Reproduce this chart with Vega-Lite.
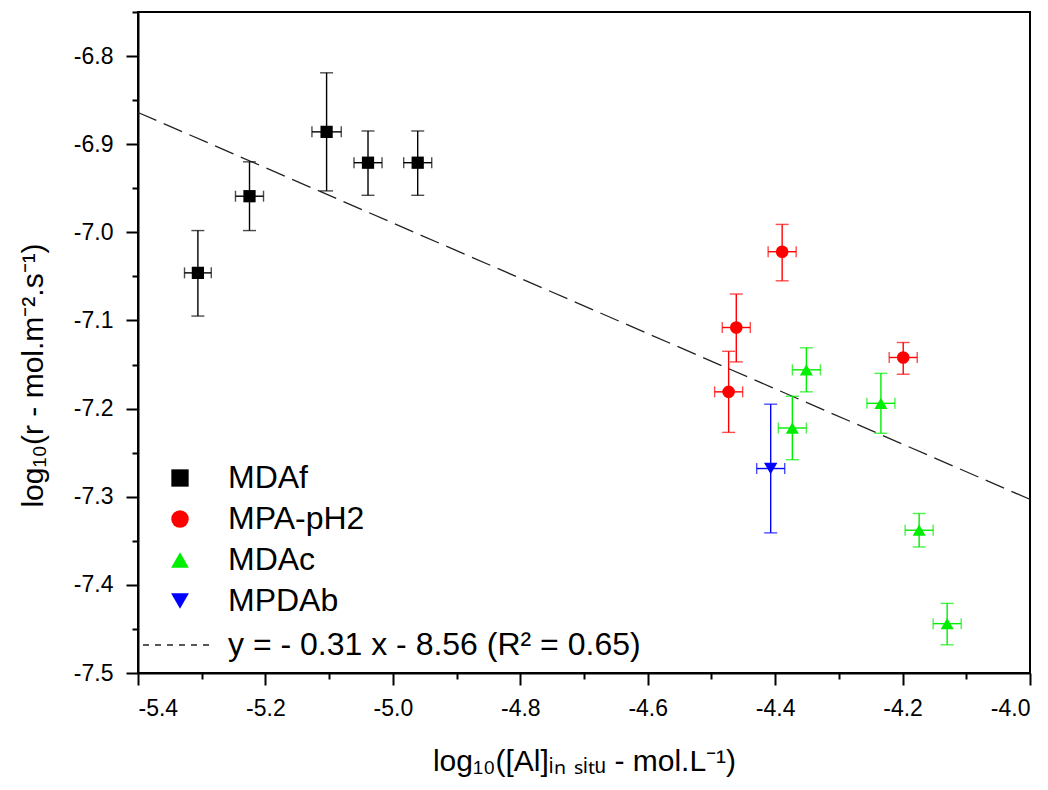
{
  "$schema": "https://vega.github.io/schema/vega-lite/v6.json",
  "width": 892,
  "height": 661,
  "autosize": {"type": "none"},
  "padding": {"left": 138, "top": 12, "right": 18, "bottom": 117},
  "background": "white",
  "config": {
    "font": "Liberation Sans",
    "view": {"stroke": "black", "strokeWidth": 2},
    "axis": {
      "grid": false,
      "domainColor": "black",
      "domainWidth": 2,
      "tickColor": "black",
      "tickWidth": 2,
      "labelColor": "black",
      "labelFont": "Liberation Sans",
      "labelFontSize": 23,
      "titleFont": "Liberation Sans",
      "titleFontSize": 30,
      "titleFontWeight": "normal",
      "titleColor": "black"
    }
  },
  "resolve": {
    "legend": {"color": "independent", "shape": "independent", "size": "independent"},
    "scale": {"size": "independent"}
  },
  "datasets": {
    "pts": [
      {"series": "MDAf", "x": -5.306, "y": -7.046, "xlo": -5.327, "xhi": -5.285, "ylo": -7.095, "yhi": -6.998},
      {"series": "MDAf", "x": -5.225, "y": -6.959, "xlo": -5.247, "xhi": -5.203, "ylo": -6.998, "yhi": -6.920},
      {"series": "MDAf", "x": -5.104, "y": -6.886, "xlo": -5.127, "xhi": -5.081, "ylo": -6.953, "yhi": -6.819},
      {"series": "MDAf", "x": -5.039, "y": -6.921, "xlo": -5.061, "xhi": -5.017, "ylo": -6.958, "yhi": -6.885},
      {"series": "MDAf", "x": -4.961, "y": -6.921, "xlo": -4.983, "xhi": -4.939, "ylo": -6.958, "yhi": -6.885},
      {"series": "MPA-pH2", "x": -4.389, "y": -7.022, "xlo": -4.411, "xhi": -4.367, "ylo": -7.055, "yhi": -6.991},
      {"series": "MPA-pH2", "x": -4.461, "y": -7.108, "xlo": -4.483, "xhi": -4.439, "ylo": -7.147, "yhi": -7.070},
      {"series": "MPA-pH2", "x": -4.473, "y": -7.181, "xlo": -4.495, "xhi": -4.451, "ylo": -7.227, "yhi": -7.135},
      {"series": "MPA-pH2", "x": -4.199, "y": -7.142, "xlo": -4.221, "xhi": -4.177, "ylo": -7.161, "yhi": -7.125},
      {"series": "MDAc", "x": -4.351, "y": -7.156, "xlo": -4.373, "xhi": -4.329, "ylo": -7.181, "yhi": -7.131},
      {"series": "MDAc", "x": -4.373, "y": -7.222, "xlo": -4.395, "xhi": -4.351, "ylo": -7.258, "yhi": -7.186},
      {"series": "MDAc", "x": -4.234, "y": -7.194, "xlo": -4.256, "xhi": -4.212, "ylo": -7.228, "yhi": -7.160},
      {"series": "MDAc", "x": -4.174, "y": -7.338, "xlo": -4.196, "xhi": -4.152, "ylo": -7.357, "yhi": -7.319},
      {"series": "MDAc", "x": -4.130, "y": -7.444, "xlo": -4.152, "xhi": -4.108, "ylo": -7.468, "yhi": -7.421},
      {"series": "MPDAb", "x": -4.407, "y": -7.268, "xlo": -4.429, "xhi": -4.385, "ylo": -7.341, "yhi": -7.195}
    ],
    "fit": [
      {"fit": "y = - 0.31 x - 8.56 (R² = 0.65)", "x": -5.4, "y": -6.864},
      {"fit": "y = - 0.31 x - 8.56 (R² = 0.65)", "x": -4.0, "y": -7.303}
    ]
  },
  "layer": [
    {
      "data": {"name": "fit"},
      "mark": {"type": "line", "color": "#222222", "strokeWidth": 1.3, "strokeDash": [20, 8]},
      "encoding": {
        "x": {
          "field": "x", "type": "quantitative",
          "scale": {"domain": [-5.4, -4.0], "nice": false, "zero": false},
          "axis": {
            "title": "log₁₀([Al]ᵢₙ ₛᵢₜᵤ - mol.L⁻¹)",
            "values": [-5.4, -5.3, -5.2, -5.1, -5.0, -4.9, -4.8, -4.7, -4.6, -4.5, -4.4, -4.3, -4.2, -4.1, -4.0],
            "labelExpr": "abs(datum.value*5 - round(datum.value*5)) > 0.01 ? '' : replace(format(datum.value, '.1f'), '\u2212', '-')",
            "tickSize": {"condition": {"test": "abs(datum.value*5 - round(datum.value*5)) > 0.01", "value": 6}, "value": 12},
            "labelPadding": 12,
            "titlePadding": 26
          }
        },
        "y": {
          "field": "y", "type": "quantitative",
          "scale": {"domain": [-7.5, -6.75], "nice": false, "zero": false},
          "axis": {
            "title": "log₁₀(r - mol.m⁻².s⁻¹)",
            "values": [-7.5, -7.45, -7.4, -7.35, -7.3, -7.25, -7.2, -7.15, -7.1, -7.05, -7.0, -6.95, -6.9, -6.85, -6.8, -6.75],
            "labelExpr": "abs(datum.value*10 - round(datum.value*10)) > 0.01 ? '' : replace(format(datum.value, '.1f'), '\u2212', '-')",
            "tickSize": {"condition": {"test": "abs(datum.value*10 - round(datum.value*10)) > 0.01", "value": 6}, "value": 12},
            "labelPadding": 13,
            "titlePadding": 25,
            "titleY": 363
          }
        }
      }
    },
    {
      "data": {"name": "fit"},
      "mark": {"type": "line", "color": "#222222", "strokeWidth": 1.3, "opacity": 0},
      "encoding": {
        "x": {"field": "x", "type": "quantitative", "title": "log₁₀([Al]ᵢₙ ₛᵢₜᵤ - mol.L⁻¹)"},
        "y": {"field": "y", "type": "quantitative", "title": "log₁₀(r - mol.m⁻².s⁻¹)"},
        "strokeDash": {
          "field": "fit", "type": "nominal",
          "scale": {"range": [[6, 6]]},
          "legend": {
            "orient": "none", "legendX": 4, "legendY": 596, "title": null,
            "labelFont": "Liberation Sans", "labelFontSize": 32, "labelColor": "black",
            "labelLimit": 0,
            "symbolType": "stroke", "symbolSize": 5184, "symbolStrokeWidth": 1.3,
            "symbolStrokeColor": "#222222", "symbolOpacity": 1, "labelOffset": 12, "padding": 0
          }
        }
      }
    },
    {
      "data": {"name": "pts"},
      "mark": {"type": "rule", "strokeWidth": 1.4},
      "encoding": {
        "x": {"field": "x", "type": "quantitative", "title": "log₁₀([Al]ᵢₙ ₛᵢₜᵤ - mol.L⁻¹)"},
        "y": {"field": "ylo", "type": "quantitative", "title": "log₁₀(r - mol.m⁻².s⁻¹)"},
        "y2": {"field": "yhi"},
        "color": {"field": "series", "type": "nominal", "legend": null}
      }
    },
    {
      "data": {"name": "pts"},
      "mark": {"type": "rule", "strokeWidth": 1.4},
      "encoding": {
        "x": {"field": "xlo", "type": "quantitative", "title": "log₁₀([Al]ᵢₙ ₛᵢₜᵤ - mol.L⁻¹)"},
        "x2": {"field": "xhi"},
        "y": {"field": "y", "type": "quantitative", "title": "log₁₀(r - mol.m⁻².s⁻¹)"},
        "color": {"field": "series", "type": "nominal", "legend": null}
      }
    },
    {
      "data": {"name": "pts"},
      "mark": {"type": "tick", "orient": "horizontal", "size": 13, "thickness": 1.4},
      "encoding": {
        "x": {"field": "x", "type": "quantitative", "title": "log₁₀([Al]ᵢₙ ₛᵢₜᵤ - mol.L⁻¹)"},
        "y": {"field": "yhi", "type": "quantitative", "title": "log₁₀(r - mol.m⁻².s⁻¹)"},
        "color": {"field": "series", "type": "nominal", "legend": null}
      }
    },
    {
      "data": {"name": "pts"},
      "mark": {"type": "tick", "orient": "horizontal", "size": 13, "thickness": 1.4},
      "encoding": {
        "x": {"field": "x", "type": "quantitative", "title": "log₁₀([Al]ᵢₙ ₛᵢₜᵤ - mol.L⁻¹)"},
        "y": {"field": "ylo", "type": "quantitative", "title": "log₁₀(r - mol.m⁻².s⁻¹)"},
        "color": {"field": "series", "type": "nominal", "legend": null}
      }
    },
    {
      "data": {"name": "pts"},
      "mark": {"type": "tick", "orient": "vertical", "size": 11, "thickness": 1.4},
      "encoding": {
        "x": {"field": "xlo", "type": "quantitative", "title": "log₁₀([Al]ᵢₙ ₛᵢₜᵤ - mol.L⁻¹)"},
        "y": {"field": "y", "type": "quantitative", "title": "log₁₀(r - mol.m⁻².s⁻¹)"},
        "color": {"field": "series", "type": "nominal", "legend": null}
      }
    },
    {
      "data": {"name": "pts"},
      "mark": {"type": "tick", "orient": "vertical", "size": 11, "thickness": 1.4},
      "encoding": {
        "x": {"field": "xhi", "type": "quantitative", "title": "log₁₀([Al]ᵢₙ ₛᵢₜᵤ - mol.L⁻¹)"},
        "y": {"field": "y", "type": "quantitative", "title": "log₁₀(r - mol.m⁻².s⁻¹)"},
        "color": {"field": "series", "type": "nominal", "legend": null}
      }
    },
    {
      "data": {"name": "pts"},
      "mark": {"type": "point", "filled": true, "opacity": 1, "strokeWidth": 0},
      "encoding": {
        "x": {"field": "x", "type": "quantitative", "title": "log₁₀([Al]ᵢₙ ₛᵢₜᵤ - mol.L⁻¹)"},
        "y": {"field": "y", "type": "quantitative", "title": "log₁₀(r - mol.m⁻².s⁻¹)"},
        "color": {
          "field": "series", "type": "nominal",
          "scale": {"domain": ["MDAf", "MPA-pH2", "MDAc", "MPDAb"], "range": ["#000000", "#ff0000", "#00ee00", "#0000ff"]},
          "legend": null
        },
        "shape": {
          "field": "series", "type": "nominal",
          "scale": {"domain": ["MDAf", "MPA-pH2", "MDAc", "MPDAb"], "range": ["square", "circle", "triangle-up", "triangle-down"]},
          "legend": null
        },
        "size": {
          "field": "series", "type": "nominal",
          "scale": {"domain": ["MDAf", "MPA-pH2", "MDAc", "MPDAb"], "range": [150, 180, 280, 300]},
          "legend": null
        }
      }
    },
    {
      "data": {"name": "pts"},
      "mark": {"type": "point", "filled": true, "opacity": 0, "strokeWidth": 0},
      "encoding": {
        "x": {"field": "x", "type": "quantitative", "title": "log₁₀([Al]ᵢₙ ₛᵢₜᵤ - mol.L⁻¹)"},
        "y": {"field": "y", "type": "quantitative", "title": "log₁₀(r - mol.m⁻².s⁻¹)"},
        "color": {
          "field": "series", "type": "nominal",
          "legend": {
            "orient": "none", "legendX": 26, "legendY": 450, "title": null,
            "labelFont": "Liberation Sans", "labelFontSize": 32, "labelColor": "black",
            "labelOffset": 32, "rowPadding": 9, "padding": 0,
            "symbolStrokeWidth": 0, "symbolOpacity": 1
          }
        },
        "shape": {
          "field": "series", "type": "nominal",
          "legend": {
            "orient": "none", "legendX": 26, "legendY": 450, "title": null,
            "labelFont": "Liberation Sans", "labelFontSize": 32, "labelColor": "black",
            "labelOffset": 32, "rowPadding": 9, "padding": 0,
            "symbolStrokeWidth": 0, "symbolOpacity": 1
          }
        },
        "size": {
          "field": "series", "type": "nominal",
          "scale": {"domain": ["MDAf", "MPA-pH2", "MDAc", "MPDAb"], "range": [300, 320, 470, 470]},
          "legend": {
            "orient": "none", "legendX": 26, "legendY": 450, "title": null,
            "labelFont": "Liberation Sans", "labelFontSize": 32, "labelColor": "black",
            "labelOffset": 32, "rowPadding": 9, "padding": 0,
            "symbolStrokeWidth": 0, "symbolOpacity": 1
          }
        }
      }
    }
  ]
}
